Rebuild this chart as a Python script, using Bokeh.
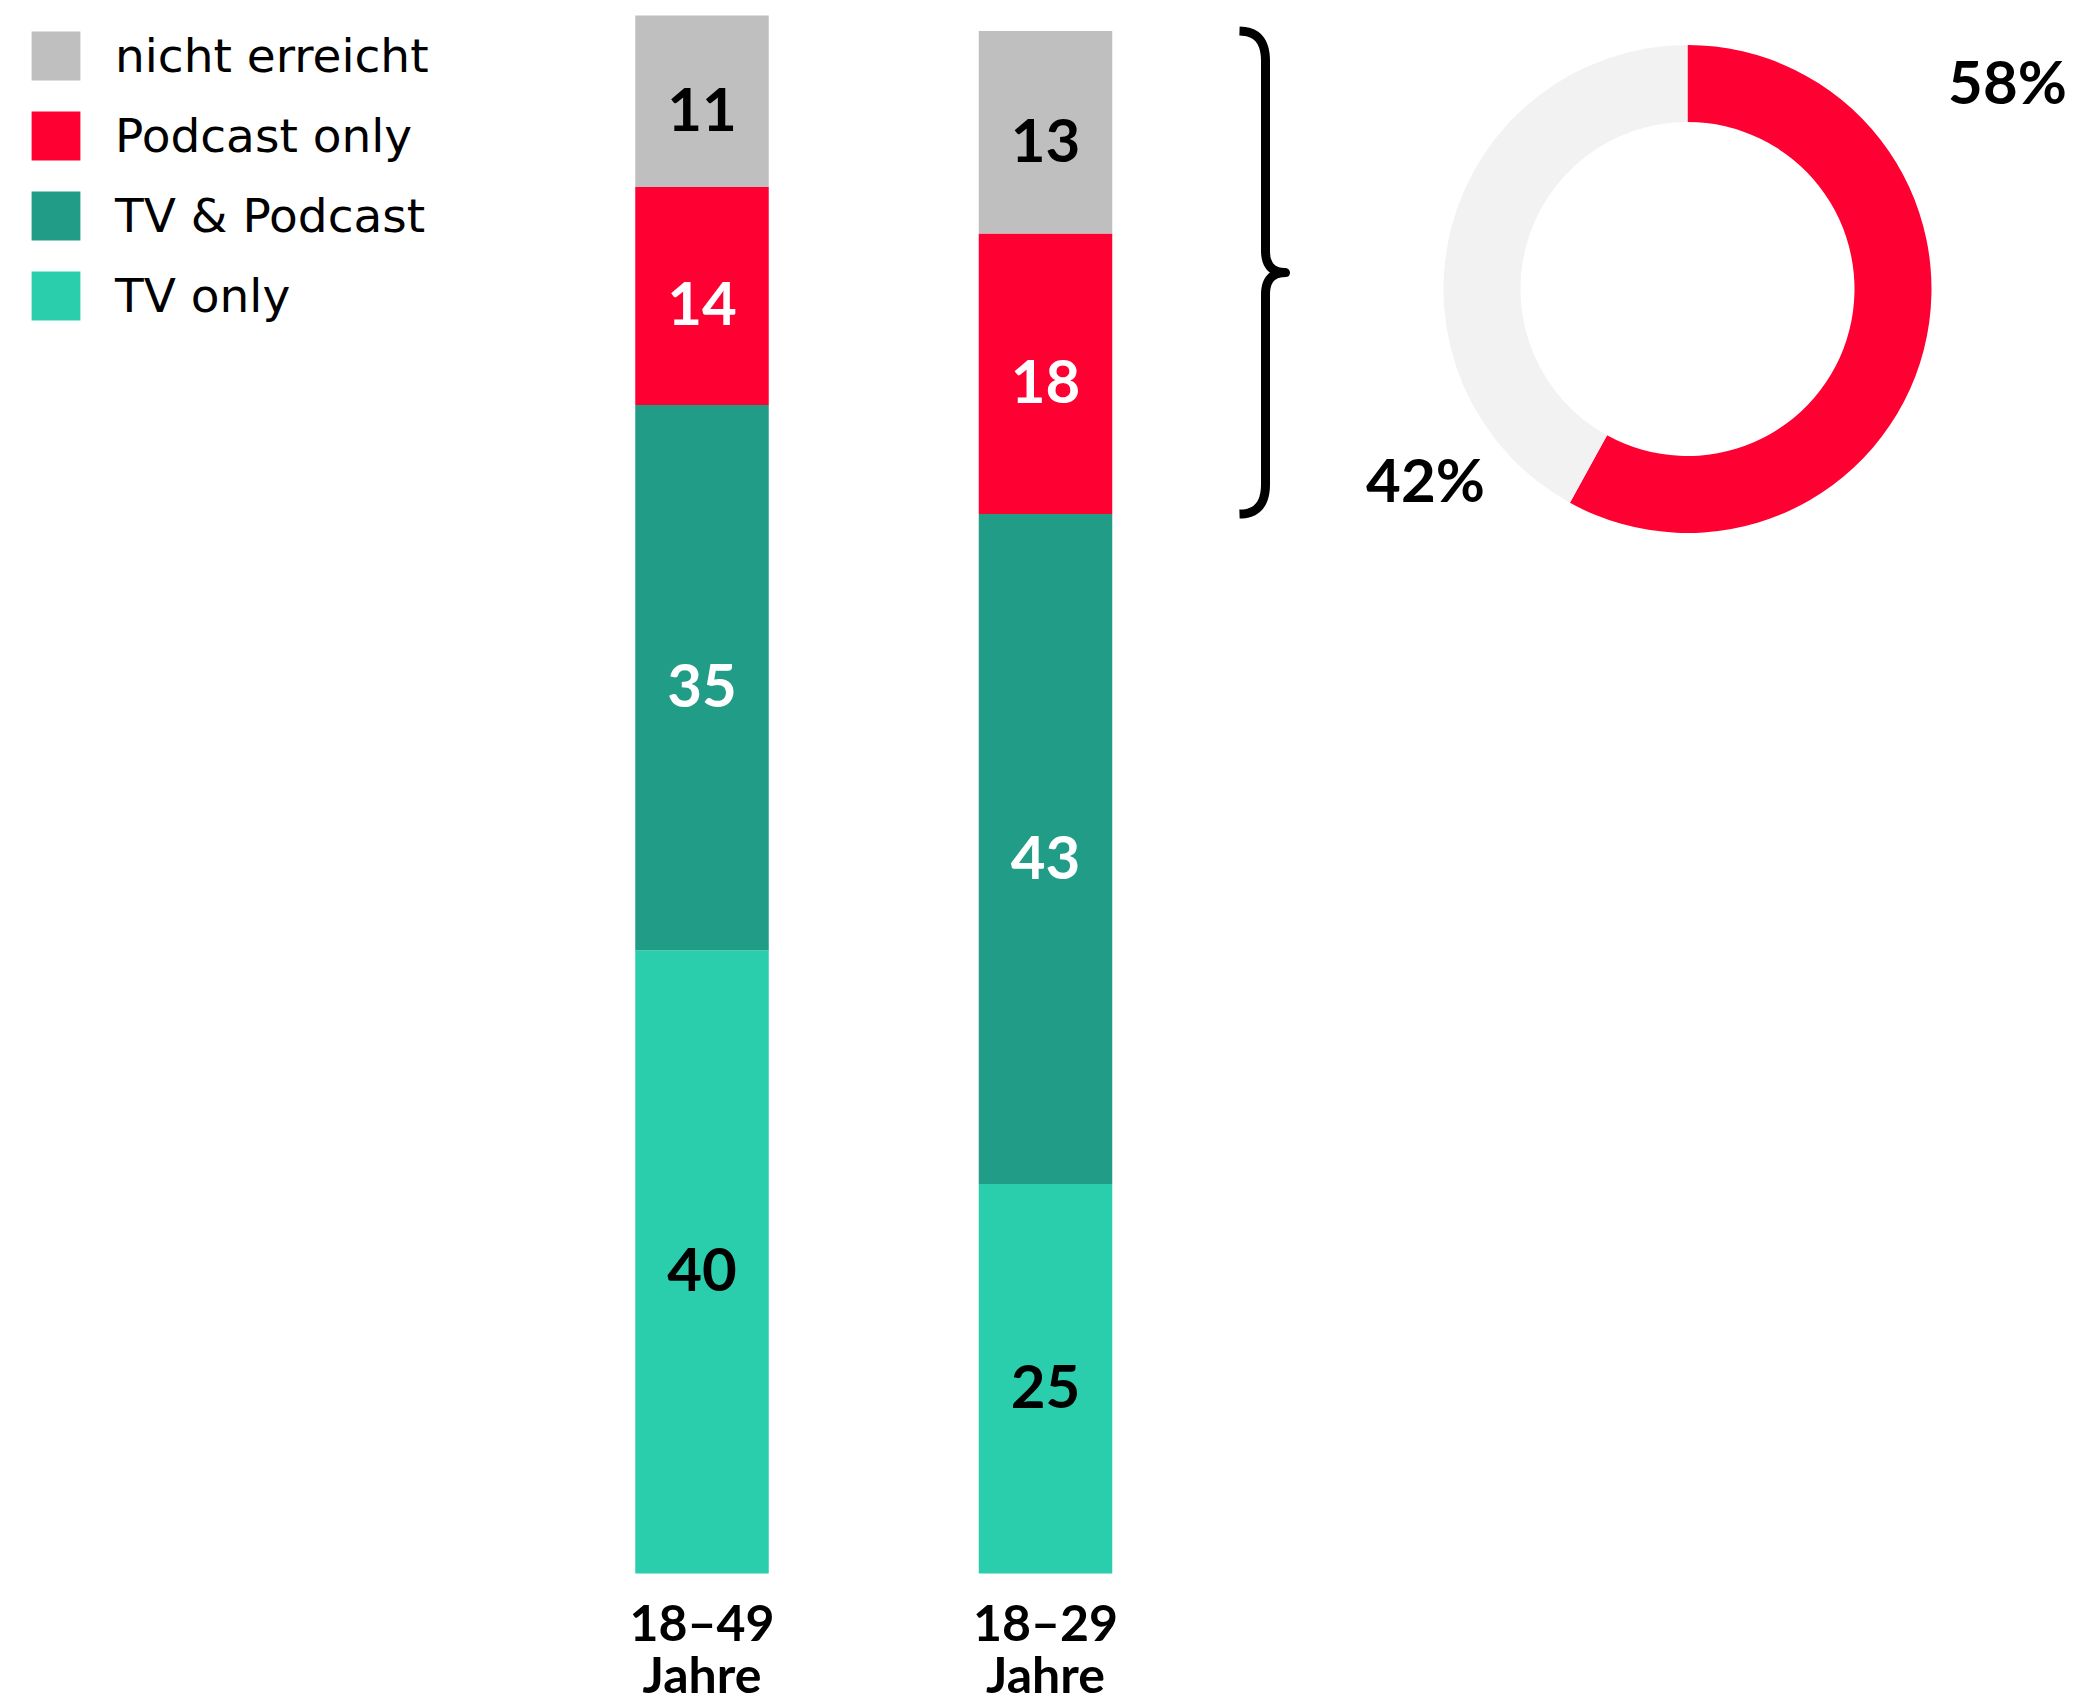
import numpy as np
from bokeh.plotting import figure
from bokeh.models import Range1d, ColumnDataSource, Legend, LegendItem
from bokeh.core.properties import value
from bokeh.embed import file_html
from bokeh.resources import INLINE

# ---------------- data ----------------
groups = ["18–49\nJahre", "18–29\nJahre"]
series = ["TV only", "TV & Podcast", "Podcast only", "nicht erreicht"]  # bottom -> top
tv_only = [40, 25]
tv_podcast = [35, 43]
podcast_only = [14, 18]
nicht_erreicht = [11, 13]
series_colors = ["#2bceac", "#219d87", "#ff0033", "#bfbfbf"]
series_label_colors = ["#000000", "#ffffff", "#ffffff", "#000000"]

donut_values = [58, 42]
donut_labels = ["58%", "42%"]
donut_colors = ["#ff0033", "#f2f2f2"]

# ---------------- layout constants (pixels) ----------------
W, H = 2080, 1704
BASE_PX = 1573          # pixel row of value 0
YPU = 15.58             # pixels per percentage point
XPU = 343.5             # pixels per bar slot
X0 = 701.5              # pixel column of first bar centre
BAR_W = 133.5 / XPU

def px_x(px):
    return (px - X0) / XPU

def px_y(py):
    return (BASE_PX - py) / YPU

p = figure(width=W, height=H, output_backend="svg", toolbar_location=None,
           x_range=Range1d(px_x(0), px_x(W)), y_range=Range1d(px_y(H), px_y(0)),
           min_border=0, x_axis_location=None, y_axis_location=None,
           background_fill_color="white", border_fill_color="white")
p.outline_line_color = None
p.grid.visible = False

xs = list(range(len(groups)))
data = {"x": xs}
vals = [tv_only, tv_podcast, podcast_only, nicht_erreicht]
for name, v in zip(series, vals):
    data[name] = v
src = ColumnDataSource(data)

renderers = p.vbar_stack(series, x="x", width=BAR_W, color=series_colors,
                         line_color=None, source=src)

# segment value labels
arr = np.array(vals, dtype=float)
bottoms = np.vstack([np.zeros(arr.shape[1]), np.cumsum(arr, axis=0)[:-1]])
centers = bottoms + arr / 2
lab = {"x": [], "y": [], "t": [], "c": []}
for j in range(len(series)):
    for i in xs:
        lab["x"].append(i)
        lab["y"].append(centers[j, i])
        lab["t"].append(str(vals[j][i]))
        lab["c"].append(series_label_colors[j])
p.text(x="x", y="y", text="t", text_color="c", source=ColumnDataSource(lab),
       text_align="center", text_baseline="middle", y_offset=8,
       text_font=value("Lato"), text_font_style="bold", text_font_size="60px")

# category labels under bars
p.text(x=xs, y=[0] * len(xs), text=groups, text_align="center", text_baseline="top",
       y_offset=18, text_font=value("Lato"), text_font_style="bold",
       text_font_size="50px", text_line_height=0.88, text_color="#000000")

# legend (top to bottom: reverse stacking order)
legend = Legend(items=[LegendItem(label=series[j], renderers=[renderers[j]])
                       for j in reversed(range(len(series)))],
                location="top_left", margin=0, padding=25, spacing=19,
                glyph_width=61, glyph_height=61, label_height=61, label_standoff=29,
                label_text_font="DejaVu Sans", label_text_font_size="47px",
                label_text_color="#000000",
                border_line_alpha=0, background_fill_alpha=0)
p.add_layout(legend)

# brace spanning the reached share of the second group
top_v = arr[:, 1].sum()
bot_v = arr[:2, 1].sum()
top_py = BASE_PX - top_v * YPU
bot_py = BASE_PX - bot_v * YPU
mid_py = (top_py + bot_py) / 2
xe, xs_, xt = 1239.0, 1265.0, 1285.0
r_end, r_mid = 30.0, 22.0

def quad(p0, c, p1, n=20):
    t = np.linspace(0, 1, n)[:, None]
    return (1 - t) ** 2 * np.array(p0) + 2 * (1 - t) * t * np.array(c) + t ** 2 * np.array(p1)

pts = np.vstack([
    quad((xe, top_py), (xs_, top_py), (xs_, top_py + r_end)),
    quad((xs_, mid_py - r_mid), (xs_, mid_py), (xt, mid_py)),
    quad((xt, mid_py), (xs_, mid_py), (xs_, mid_py + r_mid)),
    quad((xs_, bot_py - r_end), (xs_, bot_py), (xe, bot_py)),
])
p.line(x=px_x(pts[:, 0]), y=px_y(pts[:, 1]), line_color="#000000", line_width=9,
       line_join="round", line_cap="butt")

# donut
dcx, dcy = px_x(1687), px_y(288.5)
fr = np.array(donut_values, dtype=float) / sum(donut_values)
cum = np.concatenate([[0], np.cumsum(fr)])
starts = np.pi / 2 - 2 * np.pi * cum[:-1]
ends = np.pi / 2 - 2 * np.pi * cum[1:]
p.annular_wedge(x=[dcx] * len(fr), y=[dcy] * len(fr), inner_radius=167, outer_radius=244,
                inner_radius_units="screen", outer_radius_units="screen",
                start_angle=starts, end_angle=ends, direction="clock",
                color=donut_colors, line_color=None)

p.text(x=[px_x(2007), px_x(1425)], y=[px_y(80.5), px_y(478.5)], text=donut_labels,
       text_align="center", text_baseline="middle", text_font=value("Lato"),
       text_font_style="bold", text_font_size="60px", text_color="#000000")

open("out.html", "w").write(file_html(p, INLINE))
